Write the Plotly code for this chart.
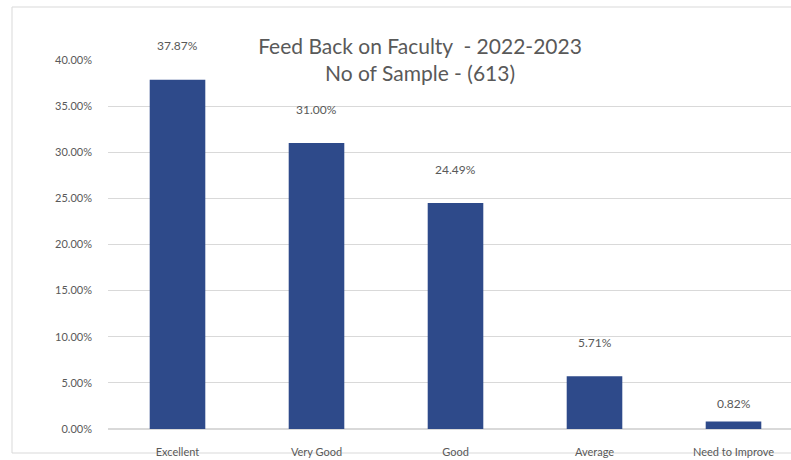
import plotly.graph_objects as go

categories = ["Excellent", "Very Good", "Good", "Average", "Need to Improve"]
values = [37.87, 31.00, 24.49, 5.71, 0.82]
y_tick_vals = [0, 5, 10, 15, 20, 25, 30, 35, 40]
y_tick_text = [f"{v:.2f}%" for v in y_tick_vals]
title_lines = ["Feed Back on Faculty  - 2022-2023", "No of Sample - (613)"]

BAR = "#2E4A8A"
GRAY = "#595959"
FONT = "Lato, Open Sans, sans-serif"

fig = go.Figure()
fig.add_trace(go.Bar(
    x=list(range(len(categories))), y=values,
    marker=dict(color=BAR, line=dict(width=0)),
    width=0.4, hoverinfo="skip",
))

for i, v in enumerate(values):
    fig.add_annotation(
        x=i, y=v, xref="x", yref="y", text=f"{v:.2f}%",
        showarrow=False, yshift=34 if v > 2 else 18,
        font=dict(family=FONT, size=12, color=GRAY),
    )

W, H = 791, 460
L, T, B = 108, 60, 31
pw = W - L
ph = H - T - B

bx0 = (12 - L) / pw
bx1 = 1.2
by0 = (H - B - 453) / ph
by1 = (H - B - 7) / ph
border = dict(color="#d9d9d9", width=1)
for (x0, y0, x1, y1) in [(bx0, by0, bx0, by1), (bx0, by1, bx1, by1), (bx0, by0, bx1, by0)]:
    fig.add_shape(type="line", xref="paper", yref="paper",
                  x0=x0, y0=y0, x1=x1, y1=y1, line=border, layer="below")

fig.update_layout(
    width=W, height=H,
    margin=dict(l=L, r=0, t=T, b=B, pad=0),
    paper_bgcolor="white", plot_bgcolor="white",
    showlegend=False,
    title=dict(text="<br>".join(title_lines), xref="container", yref="container",
               x=420 / W, y=1 - 54 / H, xanchor="center", yanchor="middle",
               font=dict(family=FONT, size=21, color=GRAY)),
    xaxis=dict(tickmode="array", tickvals=list(range(len(categories))),
               ticktext=categories, range=[-0.5, (W - L) / 139 - 0.5],
               showgrid=False, zeroline=False, showline=False,
               ticks="", ticklabelstandoff=15,
               tickfont=dict(family=FONT, size=11, color=GRAY)),
    yaxis=dict(range=[0, 40], tickmode="array", tickvals=y_tick_vals, ticktext=y_tick_text,
               showgrid=True, gridcolor="#d9d9d9", gridwidth=1,
               zeroline=True, zerolinecolor="#d9d9d9", showline=False,
               ticks="", ticklabelstandoff=15,
               tickfont=dict(family=FONT, size=11, color=GRAY)),
)

fig.write_html("out.html", config={"displayModeBar": False},
               post_script="document.body.style.margin='0';document.body.style.overflow='hidden';")
